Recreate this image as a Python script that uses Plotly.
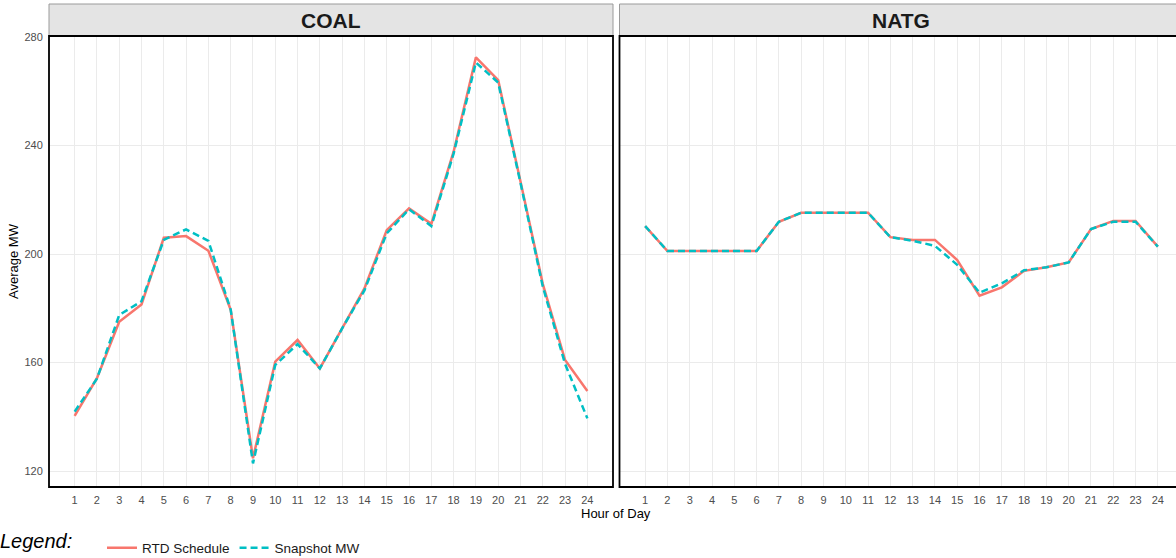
import plotly.graph_objects as go

hours = list(range(1, 25))
panels = ["COAL", "NATG"]

coal_rtd = [140.3, 154.2, 175.0, 181.4, 206.0, 206.6, 201.2, 179.4, 124.7, 160.3, 168.3, 157.8,
            172.6, 187.3, 208.8, 216.8, 211.1, 237.7, 272.5, 264.1, 226.7, 189.0, 160.9, 149.5]
coal_snap = [141.9, 154.0, 177.5, 182.6, 205.2, 209.1, 204.8, 179.5, 122.8, 159.1, 166.8, 157.8,
             172.6, 186.6, 207.6, 216.5, 210.3, 237.0, 270.6, 263.2, 226.2, 188.0, 159.5, 139.4]
natg_rtd = [210.3, 201.1, 201.1, 201.1, 201.1, 201.1, 211.9, 215.2, 215.2, 215.2, 215.2, 206.2,
            205.2, 205.2, 197.8, 184.6, 187.7, 193.8, 195.1, 196.9, 209.2, 212.2, 212.2, 202.7]
natg_snap = [210.3, 201.1, 201.1, 201.1, 201.1, 201.1, 211.9, 215.2, 215.2, 215.2, 215.2, 206.2,
             204.9, 203.0, 196.0, 185.7, 189.2, 194.0, 195.1, 196.9, 209.2, 211.9, 211.9, 202.7]

y_ticks = [120, 160, 200, 240, 280]
series_names = ["RTD Schedule", "Snapshot MW"]
colors = ["#F8766D", "#00BFC4"]

W, H = 1176, 558
ML, MR, MT, MB = 49, 0, 36, 71
PW = W - ML - MR
PH = H - MT - MB

def px_x(p):
    return (p - ML) / PW

def px_y(p):
    return (MT + PH - p) / PH

FONT = "Arial, Liberation Sans, sans-serif"

fig = go.Figure()
data = {"COAL": (coal_rtd, coal_snap), "NATG": (natg_rtd, natg_snap)}
for i, panel in enumerate(panels):
    xa = "x" if i == 0 else "x2"
    ya = "y" if i == 0 else "y2"
    for j, (name, vals) in enumerate(zip(series_names, data[panel])):
        fig.add_trace(go.Scatter(
            x=hours, y=vals, mode="lines", name=name,
            legendgroup=name, showlegend=(i == 0),
            line=dict(color=colors[j], width=2.5,
                      dash=("solid" if j == 0 else "7px,4px")),
            xaxis=xa, yaxis=ya,
        ))

left_dom = [0, px_x(613)]
right_dom = [px_x(619.5), 1]

axis_common = dict(
    showgrid=True, gridcolor="#ebebeb", gridwidth=1, zeroline=False,
    showline=False, ticks="outside", ticklen=3, tickcolor="rgba(0,0,0,0)",
    tickfont=dict(family=FONT, size=11, color="#4d4d4d"), automargin=False,
)
step = 564 / 25.3
fig.update_layout(
    width=W, height=H,
    margin=dict(l=ML, r=MR, t=MT, b=MB, autoexpand=False),
    paper_bgcolor="white", plot_bgcolor="white",
    xaxis=dict(domain=left_dom, range=[-0.15, 25.15], tickvals=hours, **axis_common),
    xaxis2=dict(domain=right_dom, range=[-0.15, -0.15 + 556.5 / step], tickvals=hours,
                anchor="y2", **axis_common),
    yaxis=dict(range=[114.1, 280.37], tickvals=y_ticks, **axis_common),
    yaxis2=dict(range=[114.1, 280.37], tickvals=y_ticks, showticklabels=False,
                anchor="x2", matches="y", **axis_common),
    showlegend=True,
    legend=dict(orientation="h", x=px_x(102), xanchor="left", y=px_y(548), yanchor="middle",
                font=dict(family=FONT, size=13.5, color="#1a1a1a"),
                bgcolor="rgba(0,0,0,0)", itemwidth=30),
)

shapes = []
annotations = []
strip_x = [(49, 613), (619.5, 1200)]
strip_centers = [331, 901]
for (x0, x1), panel, cx in zip(strip_x, panels, strip_centers):
    shapes.append(dict(type="rect", xref="paper", yref="paper",
                       x0=px_x(x0), x1=px_x(x1), y0=1, y1=px_y(4),
                       fillcolor="#e4e4e4", line=dict(color="#9a9a9a", width=1), layer="above"))
    shapes.append(dict(type="rect", xref="paper", yref="paper",
                       x0=px_x(x0), x1=px_x(x1), y0=0, y1=1,
                       fillcolor="rgba(0,0,0,0)", line=dict(color="black", width=1.8), layer="above"))
    annotations.append(dict(text="<b>%s</b>" % panel, xref="paper", yref="paper",
                            x=px_x(cx), y=px_y(20), showarrow=False,
                            xanchor="center", yanchor="middle",
                            font=dict(family=FONT, size=21, color="#1a1a1a")))

annotations.append(dict(text="Average MW", xref="paper", yref="paper",
                        x=px_x(13), y=px_y(261), textangle=-90, showarrow=False,
                        xanchor="center", yanchor="middle",
                        font=dict(family=FONT, size=13, color="black")))
annotations.append(dict(text="Hour of Day", xref="paper", yref="paper",
                        x=px_x(616), y=px_y(513), showarrow=False,
                        xanchor="center", yanchor="middle",
                        font=dict(family=FONT, size=13, color="black")))
annotations.append(dict(text="Legend:", xref="paper", yref="paper",
                        x=px_x(-2), y=px_y(541), showarrow=False,
                        xanchor="left", yanchor="middle",
                        font=dict(family=FONT, size=20, color="black", style="italic")))

fig.update_layout(shapes=shapes, annotations=annotations)
fig.write_html(
    "out.html",
    config={"displayModeBar": False},
    post_script="document.body.style.margin='0';document.body.style.padding='0';"
                "document.body.style.overflow='hidden';",
)
